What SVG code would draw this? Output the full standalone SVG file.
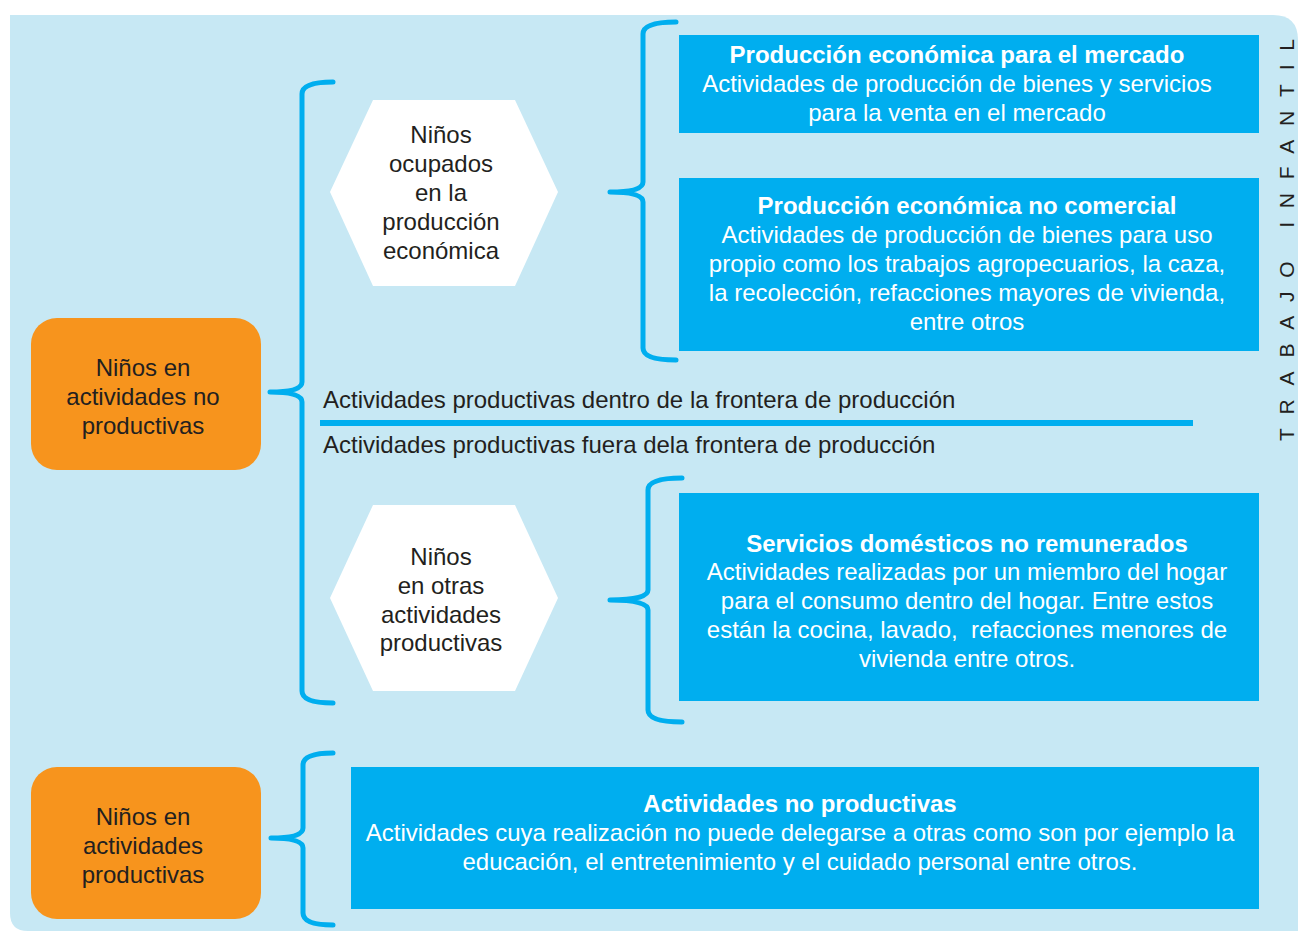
<svg xmlns="http://www.w3.org/2000/svg" width="1298" height="931" viewBox="0 0 1298 931">
<style>
.bg{fill:#C7E8F4}
.org{fill:#F7941D}
.blu{fill:#00AEEF}
.hex{fill:#FFFFFF}
.br{fill:none;stroke:#00AEEF;stroke-width:5;stroke-linecap:round;stroke-linejoin:round}
text{font-family:"Liberation Sans",Arial,sans-serif;font-size:24px}
.dk{fill:#231F20}
.wt{fill:#FFFFFF}
.c{text-anchor:middle}
.b{font-weight:bold}
</style>
<rect width="1298" height="931" fill="#FFFFFF"/>
<path class="bg" d="M10,15 H1273 Q1298,15 1298,40 V931 H28 Q10,931 10,913 Z"/>

<g id="connectors">
<path class="br" d="M333,82 Q302,82 302,94 V382 Q302,392 270,392 Q302,392 302,402 V691 Q302,703 333,703"/>
<path class="br" d="M676,22 Q643,22 643,34 V182 Q643,192 610,192 Q643,192 643,202 V348 Q643,360 676,360"/>
<path class="br" d="M682,478 Q648,478 648,490 V590 Q648,600 610,600 Q648,600 648,610 V710 Q648,722 682,722"/>
<path class="br" d="M333,753 Q303,753 303,765 V828 Q303,838 271,838 Q303,838 303,848 V913 Q303,925 333,925"/>
<line x1="320" y1="423" x2="1193" y2="423" stroke="#00AEEF" stroke-width="6"/>
</g>

<g id="orange1">
<rect class="org" x="31" y="318" width="230" height="152" rx="26"/>
<text class="dk c" x="143" y="376">Niños en</text>
<text class="dk c" x="143" y="405">actividades no</text>
<text class="dk c" x="143" y="434">productivas</text>
</g>

<g id="orange2">
<rect class="org" x="31" y="767" width="230" height="152" rx="26"/>
<text class="dk c" x="143" y="825">Niños en</text>
<text class="dk c" x="143" y="854">actividades</text>
<text class="dk c" x="143" y="883">productivas</text>
</g>

<g id="hex1">
<polygon class="hex" points="330,192 373,100 515,100 558,192 515,286 373,286"/>
<text class="dk c" x="441" y="143">Niños</text>
<text class="dk c" x="441" y="172">ocupados</text>
<text class="dk c" x="441" y="201">en la</text>
<text class="dk c" x="441" y="230">producción</text>
<text class="dk c" x="441" y="259">económica</text>
</g>

<g id="hex2">
<polygon class="hex" points="330,598 373,505 515,505 558,598 515,691 373,691"/>
<text class="dk c" x="441" y="565">Niños</text>
<text class="dk c" x="441" y="594">en otras</text>
<text class="dk c" x="441" y="623">actividades</text>
<text class="dk c" x="441" y="651">productivas</text>
</g>

<g id="box1">
<rect class="blu" x="679" y="35" width="580" height="98"/>
<text class="wt c b" x="957" y="63">Producción económica para el mercado</text>
<text class="wt c" x="957" y="92">Actividades de producción de bienes y servicios</text>
<text class="wt c" x="957" y="121">para la venta en el mercado</text>
</g>

<g id="box2">
<rect class="blu" x="679" y="178" width="580" height="173"/>
<text class="wt c b" x="967" y="214">Producción económica no comercial</text>
<text class="wt c" x="967" y="243">Actividades de producción de bienes para uso</text>
<text class="wt c" x="967" y="272">propio como los trabajos agropecuarios, la caza,</text>
<text class="wt c" x="967" y="301">la recolección, refacciones mayores de vivienda,</text>
<text class="wt c" x="967" y="330">entre otros</text>
</g>

<g id="box3">
<rect class="blu" x="679" y="493" width="580" height="208"/>
<text class="wt c b" x="967" y="552">Servicios domésticos no remunerados</text>
<text class="wt c" x="967" y="580">Actividades realizadas por un miembro del hogar</text>
<text class="wt c" x="967" y="609">para el consumo dentro del hogar. Entre estos</text>
<text class="wt c" x="967" y="638" xml:space="preserve">están la cocina, lavado,  refacciones menores de</text>
<text class="wt c" x="967" y="667">vivienda entre otros.</text>
</g>

<g id="box4">
<rect class="blu" x="351" y="767" width="908" height="142"/>
<text class="wt c b" x="800" y="812">Actividades no productivas</text>
<text class="wt c" x="800" y="841">Actividades cuya realización no puede delegarse a otras como son por ejemplo la</text>
<text class="wt c" x="800" y="870">educación, el entretenimiento y el cuidado personal entre otros.</text>
</g>

<g id="labels">
<text class="dk" x="323" y="408">Actividades productivas dentro de la frontera de producción</text>
<text class="dk" x="323" y="453">Actividades productivas fuera dela frontera de producción</text>
<text class="dk" x="0" y="0" transform="translate(1294,441) rotate(-90)" textLength="402" lengthAdjust="spacing" style="font-size:21px">TRABAJO INFANTIL</text>
</g>
</svg>
